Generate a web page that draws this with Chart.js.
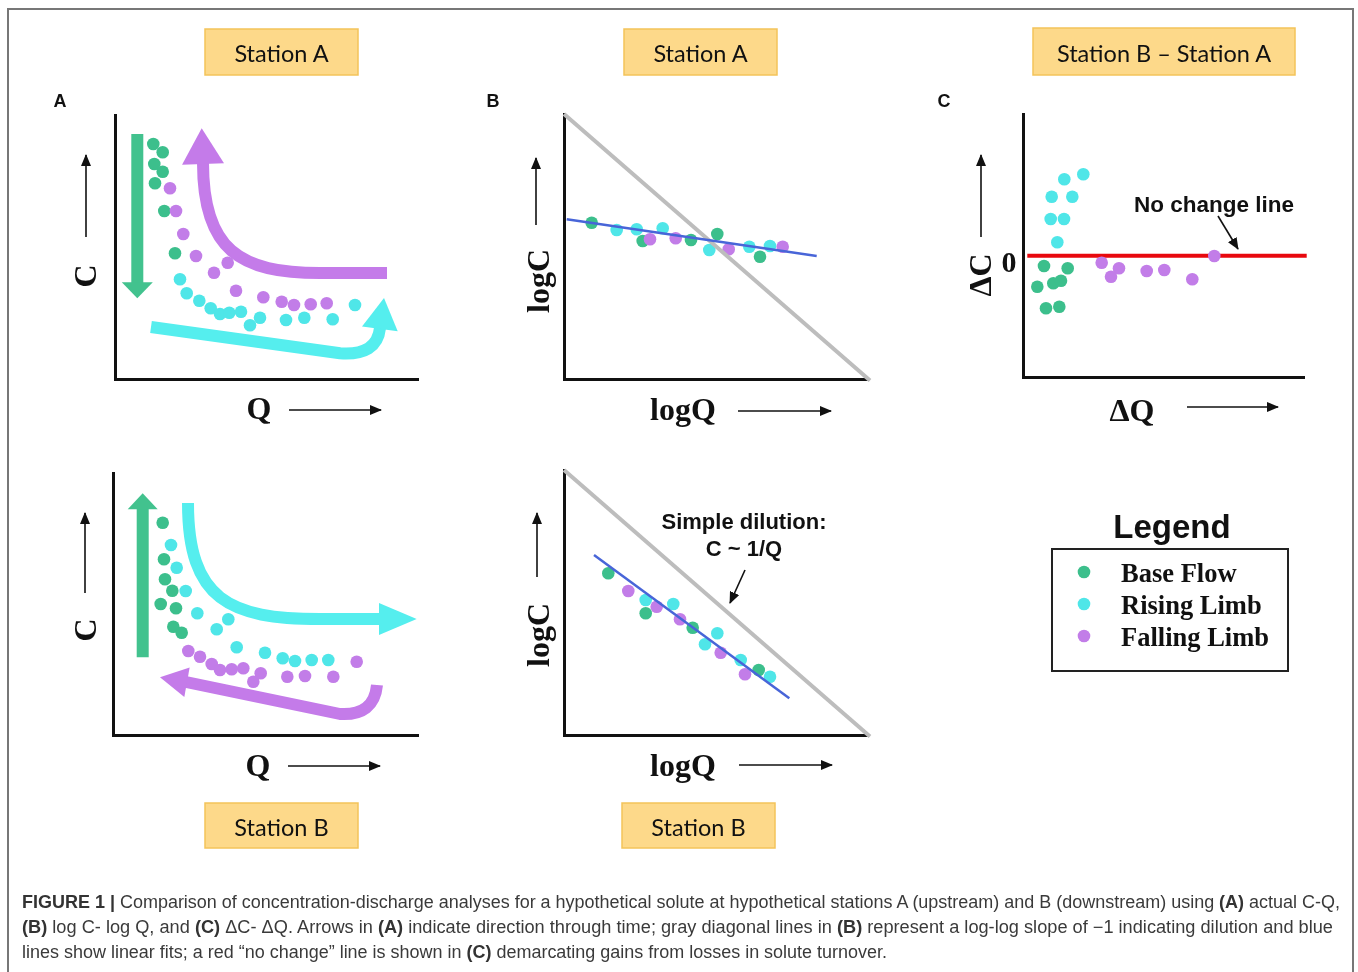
<!DOCTYPE html>
<html><head><meta charset="utf-8">
<script src="https://cdn.jsdelivr.net/npm/chart.js@4.4.0/dist/chart.umd.min.js"></script>
<style>
html,body{margin:0;padding:0;background:#fff;width:1358px;height:972px;overflow:hidden;position:relative;}
canvas{position:absolute;left:0;top:0;}
svg{position:absolute;left:0;top:0;z-index:5;}
.cap{position:absolute;left:22px;white-space:nowrap;font-family:"Liberation Sans",Arial,sans-serif;font-size:17.5px;line-height:20px;color:#3a3a3a;transform-origin:0 0;z-index:6;}
.cap b{color:#333;}
</style></head>
<body>
<svg id="ov" width="1358" height="972" xmlns="http://www.w3.org/2000/svg"></svg>
<div class="cap" id="cap1" style="top:892px"><b>FIGURE 1 |</b> Comparison of concentration-discharge analyses for a hypothetical solute at hypothetical stations A (upstream) and B (downstream) using <b>(A)</b> actual C-Q,</div>
<div class="cap" id="cap2" style="top:917px"><b>(B)</b> log C- log Q, and <b>(C)</b> ΔC- ΔQ. Arrows in <b>(A)</b> indicate direction through time; gray diagonal lines in <b>(B)</b> represent a log-log slope of −1 indicating dilution and blue</div>
<div class="cap" id="cap3" style="top:942px">lines show linear fits; a red “no change” line is shown in <b>(C)</b> demarcating gains from losses in solute turnover.</div>
<script>
// ---------------- DATA (arbitrary units) ----------------
// Panel A, Station A (C vs Q)
const aTopBase    = [[38.3,235],[47.7,226.7],[39.3,215],[47.7,207.3],[40,195.7],[49.3,168],[60,125.7]];
const aTopRising  = [[65,99.7],[71.7,85.7],[84.3,78.3],[95.7,70.7],[105,65],[114.3,66.3],[126,67.3],[135,53.7],[145,61.3],[171,59],[189.3,61.3],[217.7,59.7],[240,74]];
const aTopFalling = [[55,190.7],[61,168],[68.3,145],[81,123],[99,106.3],[112.7,116.3],[121,88.3],[148.3,81.7],[166.7,77.3],[179,74],[195.7,74.7],[211.7,75.7]];
// Panel A, Station B
const aBotBase    = [[49.7,212.3],[51,175.7],[52,155.7],[59.3,144.3],[47.7,131],[63,126.7],[60.3,108.3],[68.7,102.3]];
const aBotRising  = [[58,190],[63.7,167.3],[72.7,144],[84.3,121.7],[103.7,105.7],[115.3,115.7],[123.7,87.7],[152,82.3],[169.7,76.7],[182,74],[198.7,75],[215.3,75]];
const aBotFalling = [[75.3,84],[87,78.3],[98.7,71],[107,65],[118.7,65.7],[130.3,66.7],[140.3,53.3],[147.7,61.7],[174.3,58.3],[192,59],[220.3,58.3],[243.7,73.3]];
// Panel B, Station A (logC vs logQ)
const bTopBase    = [[27.7,156.3],[78.7,138],[127,139],[153.3,145],[196,122.3]];
const bTopRising  = [[52.7,149],[72.7,149.7],[98.7,150.7],[145.3,129],[185.3,132.3],[206,133]];
const bTopFalling = [[86,139.7],[111.7,140.7],[164.7,129.7],[218.7,132.3]];
const bTopFit     = [[2.7,159.7],[252.7,123]];
const bTopDilution= [[0,265],[306,-1.5]];
// Panel B, Station B
const bBotBase    = [[44.3,161.7],[81.7,121.7],[128.7,107.3],[194.7,65]];
const bBotRising  = [[81.7,135],[109.3,131],[141,90.7],[153.3,101.7],[176.7,75],[206,58.3]];
const bBotFalling = [[64.3,144],[92.7,128.3],[116,115.7],[156.7,82.3],[181,60.7]];
const bBotFit     = [[30,180],[225.3,36.7]];
const bBotDilution= [[0,265],[306,-1.5]];
// Panel C, Station B – Station A (ΔC vs ΔQ)
const cBase    = [[21,111],[44.7,108.7],[14.3,90.3],[30.3,93.7],[38,96.3],[23,68.7],[36.3,70.3]];
const cRising  = [[60.3,202.7],[41.3,197.7],[28.7,180.3],[49.3,180.3],[27.7,158],[41,158],[34.3,134.7]];
const cFalling = [[78.7,114.3],[96,108.7],[88,100.3],[123.7,106],[141.3,107],[169.3,97.7],[191.3,121]];
const cNoChange= [[4.3,121.3],[283.7,121.3]];
// Direction arrows of panel A (paths in data units)
const arrowsATop = [
  {series:'base',    path:[['M',22.3,245],['L',22.3,95.7]], tip:[22.3,80.7]},
  {series:'falling', path:[['M',272,106],['L',205,106],['C',125,106,88,129,88,216]], tip:[86.7,250.7]},
  {series:'rising',  path:[['M',36,52],['L',225,25.7],['Q',262,23,265,51]], tip:[269,81]}
];
const arrowsABot = [
  {series:'base',    path:[['M',29.7,77.7],['L',29.7,226.7]], tip:[29.7,241.7]},
  {series:'rising',  path:[['M',75,232],['C',75,135,117,116,207,116],['L',267,116]], tip:[303.7,116]},
  {series:'falling', path:[['M',264,50],['Q',261,19,227,21],['L',73,53]], tip:[47,57.7]}
];
const seriesNames = ['Base Flow','Rising Limb','Falling Limb'];

// ---------------- STYLE ----------------
const COL = {base:'#3cbf8c', rising:'#4fe6e8', falling:'#c27de8'};
const ARROWCOL = {base:'#42c28e', rising:'#55eeee', falling:'#c47be9'};
const HEAD = {ATop:[15.5,21,18], ABot:[15,16,15]};
const W=1358,H=972;

function pts(a){return a.map(p=>({x:p[0],y:p[1]}));}
function dots(a,c,label){return {label, data:pts(a), backgroundColor:c, borderWidth:0, pointRadius:6.3, pointHoverRadius:6.3, clip:false};}
function seg(a,c,w){return {type:'line', data:pts(a), borderColor:c, borderWidth:w, pointRadius:0, pointHoverRadius:0, showLine:true, fill:false, tension:0, clip:false};}

function arrowPlugin(arrows, heads){
  return {id:'dirArrows', beforeDatasetsDraw(chart){
    const ctx=chart.ctx, xs=chart.scales.x, ys=chart.scales.y;
    const X=v=>xs.getPixelForValue(v), Y=v=>ys.getPixelForValue(v);
    arrows.forEach((a,i)=>{
      ctx.save();
      ctx.strokeStyle=ARROWCOL[a.series]; ctx.fillStyle=ARROWCOL[a.series];
      ctx.lineWidth=12; ctx.lineCap='butt'; ctx.lineJoin='round';
      ctx.beginPath(); let last;
      a.path.forEach(s=>{
        if(s[0]==='M'){ctx.moveTo(X(s[1]),Y(s[2])); last=[s[1],s[2]];}
        else if(s[0]==='L'){ctx.lineTo(X(s[1]),Y(s[2])); last=[s[1],s[2]];}
        else if(s[0]==='Q'){ctx.quadraticCurveTo(X(s[1]),Y(s[2]),X(s[3]),Y(s[4])); last=[s[3],s[4]];}
        else if(s[0]==='C'){ctx.bezierCurveTo(X(s[1]),Y(s[2]),X(s[3]),Y(s[4]),X(s[5]),Y(s[6])); last=[s[5],s[6]];}
      });
      ctx.stroke();
      const bx=X(last[0]), by=Y(last[1]), tx=X(a.tip[0]), ty=Y(a.tip[1]);
      const dx=tx-bx, dy=ty-by, L=Math.hypot(dx,dy), h=heads[i];
      const ux=dx/L, uy=dy/L, px=-uy*h, py=ux*h;
      ctx.beginPath();
      ctx.moveTo(tx,ty);
      ctx.lineTo(bx-ux+px,by-uy+py);
      ctx.lineTo(bx-ux-px,by-uy-py);
      ctx.closePath(); ctx.fill();
      ctx.restore();
    });
  }};
}

function panel(area, datasets, plugins){
  const c=document.createElement('canvas'); c.width=W; c.height=H;
  document.body.appendChild(c);
  const axis = (max)=>({type:'linear', min:0, max, ticks:{display:false}, grid:{display:false, drawTicks:false, tickLength:0}, border:{display:true, color:'#111', width:3}});
  return new Chart(c, {
    type:'scatter',
    data:{datasets},
    options:{
      responsive:false, animation:false, events:[],
      layout:{autoPadding:false, padding:{left:area.L, top:area.T, right:W-area.R, bottom:H-area.B}},
      plugins:{legend:{display:false}, tooltip:{enabled:false}},
      scales:{x:axis(area.R-area.L), y:axis(area.B-area.T)}
    },
    plugins: plugins||[]
  });
}

// Panel areas (page pixels of the axis boxes)
const AREA = {
  aTop:{L:115,T:115,R:418,B:379},
  aBot:{L:113,T:473,R:418,B:735},
  bTop:{L:564,T:114,R:868,B:379},
  bBot:{L:564,T:470,R:868,B:735},
  c:   {L:1023,T:114,R:1304,B:377}
};

panel(AREA.aTop, [dots(aTopFalling,COL.falling,seriesNames[2]), dots(aTopRising,COL.rising,seriesNames[1]), dots(aTopBase,COL.base,seriesNames[0])], [arrowPlugin(arrowsATop, HEAD.ATop)]);
panel(AREA.aBot, [dots(aBotFalling,COL.falling,seriesNames[2]), dots(aBotRising,COL.rising,seriesNames[1]), dots(aBotBase,COL.base,seriesNames[0])], [arrowPlugin(arrowsABot, HEAD.ABot)]);
panel(AREA.bTop, [seg(bTopFit,'#4865d8',2.5), seg(bTopDilution,'#bdbdbd',4), dots(bTopFalling,COL.falling,seriesNames[2]), dots(bTopRising,COL.rising,seriesNames[1]), dots(bTopBase,COL.base,seriesNames[0])]);
panel(AREA.bBot, [seg(bBotFit,'#4865d8',2.5), seg(bBotDilution,'#bdbdbd',4), dots(bBotFalling,COL.falling,seriesNames[2]), dots(bBotRising,COL.rising,seriesNames[1]), dots(bBotBase,COL.base,seriesNames[0])]);
panel(AREA.c, [dots(cFalling,COL.falling,seriesNames[2]), dots(cRising,COL.rising,seriesNames[1]), dots(cBase,COL.base,seriesNames[0]), seg(cNoChange,'#e8080e',4)]);

// ---------------- SVG annotations ----------------
const NS='http://www.w3.org/2000/svg';
const ov=document.getElementById('ov');
function el(tag, attrs, text){const e=document.createElementNS(NS,tag); for(const k in attrs) e.setAttribute(k,attrs[k]); if(text!==undefined) e.textContent=text; ov.appendChild(e); return e;}
const defs=el('defs',{});
const mk=document.createElementNS(NS,'marker');
[['id','ah'],['viewBox','0 0 12 10'],['refX','11'],['refY','5'],['markerWidth','12'],['markerHeight','10'],['markerUnits','userSpaceOnUse'],['orient','auto']].forEach(p=>mk.setAttribute(p[0],p[1]));
const mp=document.createElementNS(NS,'path'); mp.setAttribute('d','M0,0 L12,5 L0,10 Z'); mp.setAttribute('fill','#111'); mk.appendChild(mp); defs.appendChild(mk);

// frame
el('path',{d:'M8,972 L8,9 L1353,9 L1353,972', fill:'none', stroke:'#777', 'stroke-width':2});

function arrow(x1,y1,x2,y2){el('line',{x1,y1,x2,y2,stroke:'#111','stroke-width':1.6,'marker-end':'url(#ah)'});}
// axis direction arrows
arrow(86,237,86,155); arrow(289,410,381,410);
arrow(85,593,85,513); arrow(288,766,380,766);
arrow(536,225,536,158); arrow(738,411,831,411);
arrow(537,577,537,513); arrow(739,765,832,765);
arrow(981,237,981,155); arrow(1187,407,1278,407);
// annotation arrows
arrow(1218,216,1238,249);
arrow(745,570,730,603);

const SERIF='"Liberation Serif","Times New Roman",serif';
const SANS='"Liberation Sans",Arial,sans-serif';
function label(t,x,y,size,family,rot,weight){
  const a={x,y,'font-size':size,'font-family':family,'font-weight':weight||'bold','text-anchor':'middle','dominant-baseline':'central',fill:'#111'};
  if(rot) a.transform='rotate(-90 '+x+' '+y+')';
  return el('text',a,t);
}
label('C',85,276,32,SERIF,true); label('Q',259,408,32,SERIF);
label('C',85,630,32,SERIF,true); label('Q',258,765,32,SERIF);
label('logC',538,281,32,SERIF,true); label('logQ',683,409,32,SERIF);
label('logC',538,635,32,SERIF,true); label('logQ',683,765,32,SERIF);
label('ΔC',980,275,32,SERIF,true); label('ΔQ',1132,410,32,SERIF);
label('0',1009,261,30,SERIF);
label('A',60,101,18,SANS); label('B',493,101,18,SANS); label('C',944,101,18,SANS);
label('No change line',1214,204,22.5,SANS);
label('Simple dilution:',744,521,22,SANS);
label('C ~ 1/Q',744,548,22,SANS);

// station boxes
function box(x,y,w,h,t){
  el('rect',{x,y,width:w,height:h,fill:'#fdd98a',stroke:'#f3c35a','stroke-width':1.5});
  el('text',{x:x+w/2,y:y+h/2+1,'font-size':23.5,'font-family':'Lato,"Open Sans",sans-serif','text-anchor':'middle','dominant-baseline':'central',fill:'#111'},t);
}
box(205,29,153,46,'Station A');
box(624,29,153,46,'Station A');
box(1033,28,262,47,'Station B – Station A');
box(205,803,153,45,'Station B');
box(622,803,153,45,'Station B');

// legend
label('Legend',1172,526,33,SANS);
el('rect',{x:1052,y:549,width:236,height:122,fill:'none',stroke:'#222','stroke-width':2});
[['base',572],['rising',604],['falling',636]].forEach((r,i)=>{
  el('circle',{cx:1084,cy:r[1],r:6.3,fill:COL[r[0]]});
  el('text',{x:1121,y:r[1]+1,'font-size':26.5,'font-family':SERIF,'font-weight':'bold','dominant-baseline':'central',fill:'#111'},seriesNames[i]);
});

// caption width fit
[['cap1',1318],['cap2',1311],['cap3',865]].forEach(p=>{
  const d=document.getElementById(p[0]); const w=d.getBoundingClientRect().width;
  d.style.transform='scaleX('+(p[1]/w)+')';
});
</script>
</body></html>
